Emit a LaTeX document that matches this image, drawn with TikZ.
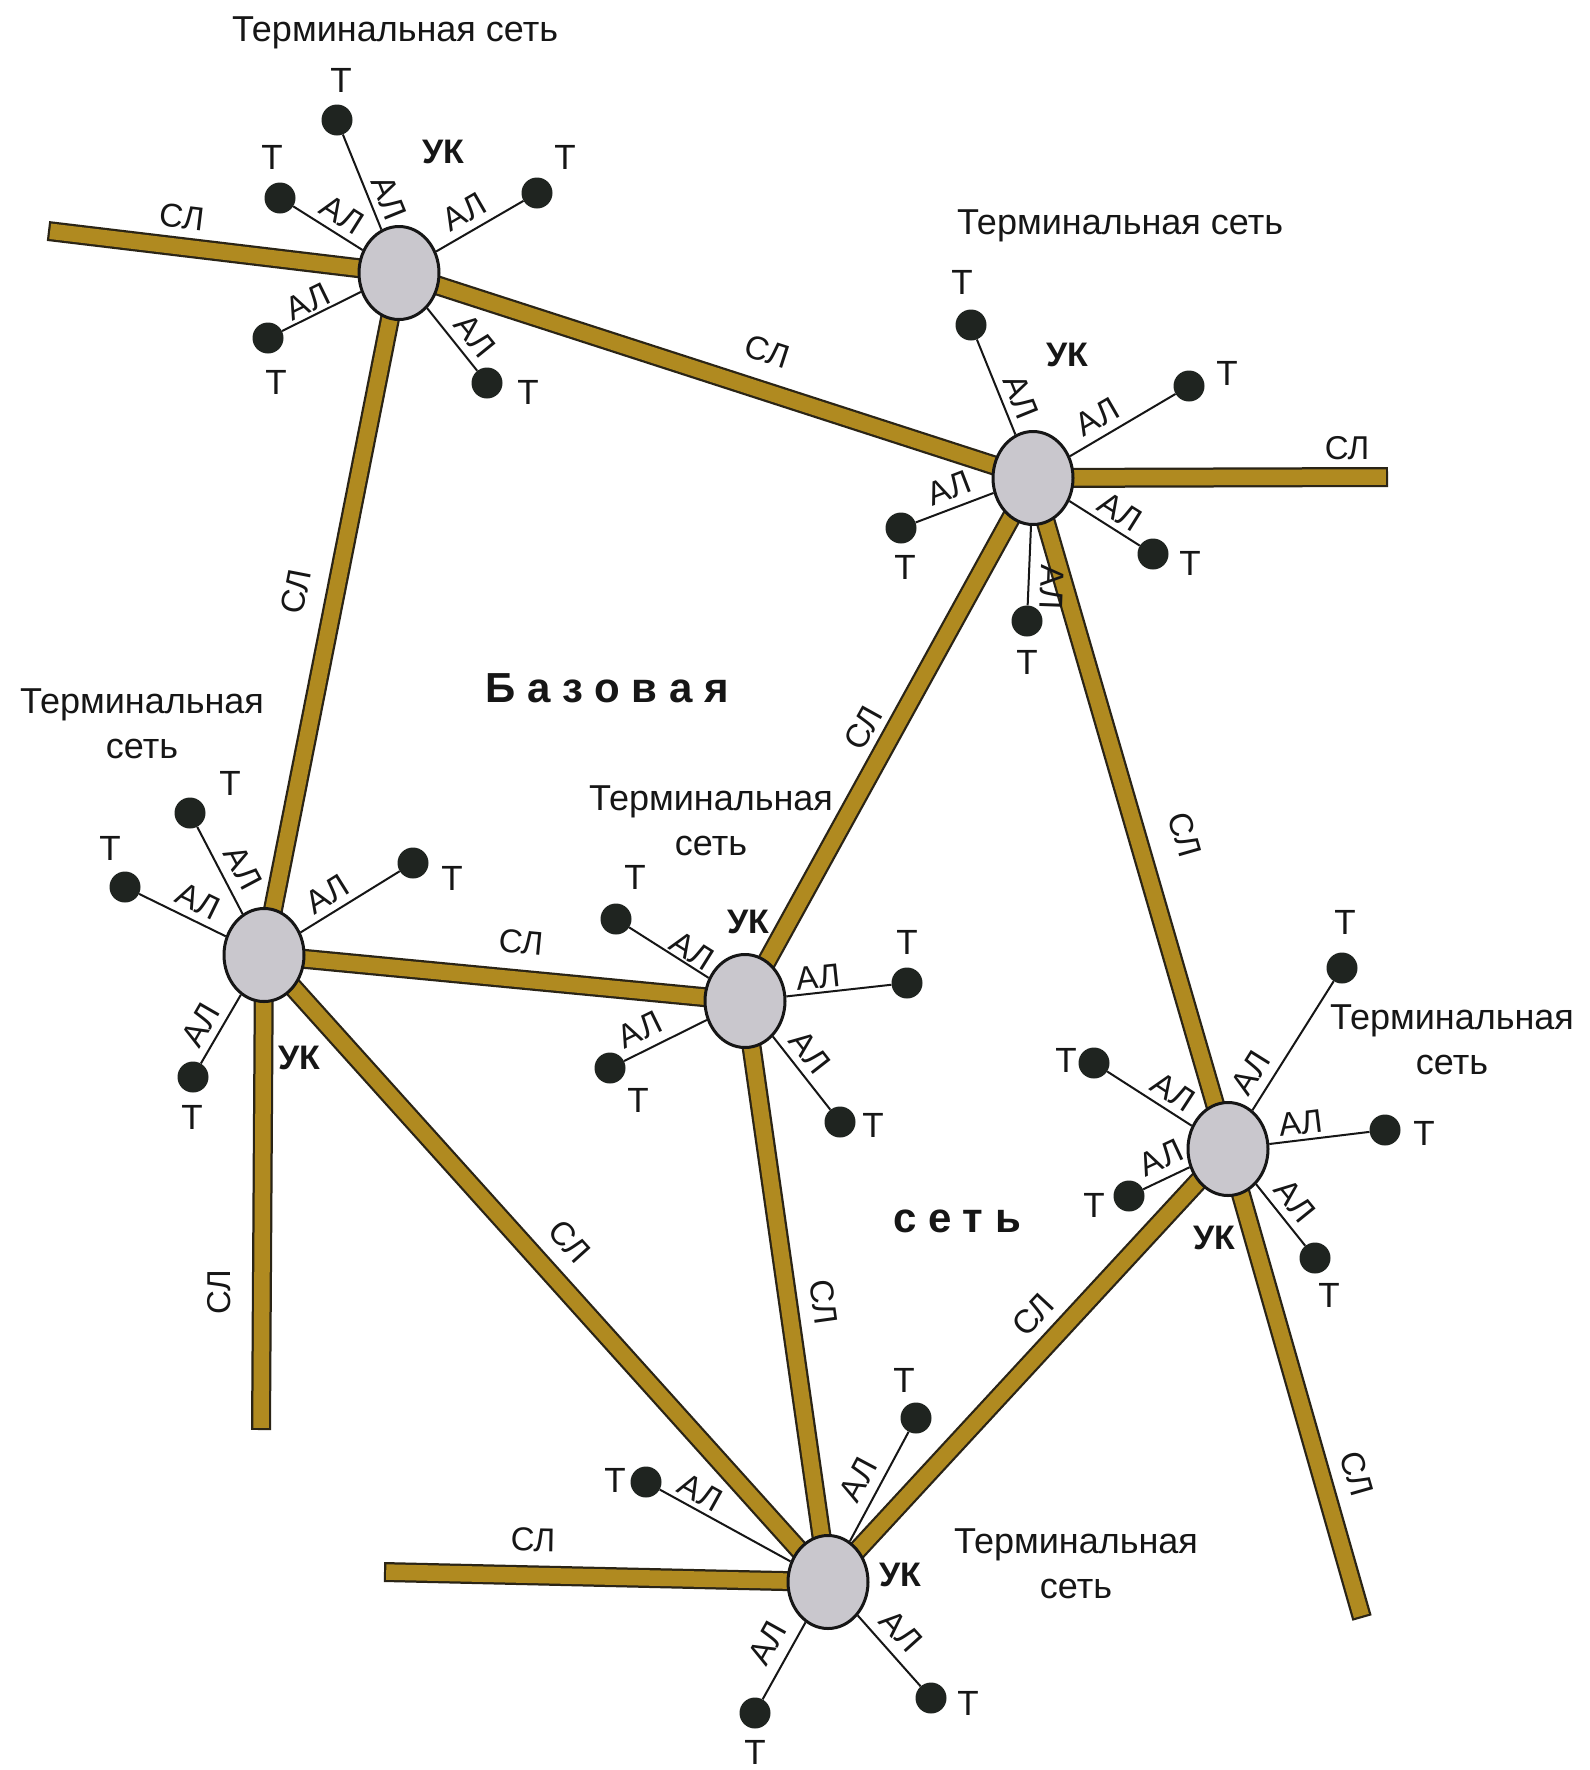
\documentclass[tikz,border=0pt]{standalone}
\usepackage{fontspec}
\setmainfont{Liberation Sans}
\newfontfamily\spacedfont[LetterSpace=28]{Liberation Sans}
\usetikzlibrary{shapes.geometric,backgrounds}

\definecolor{ink}{HTML}{161616}
\definecolor{trunk}{HTML}{B08A20}
\definecolor{trunkrim}{HTML}{2A2416}
\definecolor{hubfill}{HTML}{C9C7CD}
\definecolor{dotfill}{HTML}{1F2420}

\tikzset{
  hub/.style={ellipse, draw=ink, line width=3pt, fill=hubfill,
    minimum width=80pt, minimum height=93pt, inner sep=0pt},
  term/.style={circle, fill=dotfill, minimum size=31pt, inner sep=0pt},
  tlabel/.style={text=ink, font=\fontsize{35}{40}\selectfont, inner sep=0pt},
  allabel/.style={text=ink, font=\fontsize{33}{38}\selectfont, inner sep=0pt},
  sllabel/.style={text=ink, font=\fontsize{33}{38}\selectfont, inner sep=0pt},
  uklabel/.style={text=ink, font=\fontsize{34}{38}\selectfont\bfseries, inner sep=0pt},
  netname/.style={text=ink, font=\fontsize{36}{45}\selectfont, align=center, inner sep=0pt},
  basename/.style={text=ink, font=\spacedfont\bfseries\fontsize{42}{48}\selectfont, inner sep=0pt},
  accline/.style={draw=ink, line width=2pt},
  trunkouter/.style={draw=trunkrim, line width=20pt},
  trunkinner/.style={draw=trunk, line width=15.5pt, shorten <=2.2pt, shorten >=2.2pt},
}

\begin{document}
\begin{tikzpicture}[x=1pt,y=-1pt]
\useasboundingbox (0,0) rectangle (1590,1770);

% switching centres
\node[hub] (A) at (399,273) {};
\node[hub] (B) at (1033,478) {};
\node[hub] (C) at (264,955) {};
\node[hub] (D) at (745,1001) {};
\node[hub] (E) at (1228,1149) {};
\node[hub] (F) at (828,1582) {};

% open ends of trunk lines
\coordinate (lA) at (48,231);
\coordinate (lB) at (1388,477);
\coordinate (lC) at (261,1430);
\coordinate (lE) at (1362,1618);
\coordinate (lF) at (384,1572);

% trunk lines: dark rim first, golden core on top
\begin{pgfonlayer}{background}
  \fill[white] (0,0) rectangle (1590,1770);
  \foreach \p/\q in {A/B, A/C, A/lA, B/D, B/E, B/lB, C/D, C/F, C/lC, D/F, E/F, E/lE, F/lF}
    \draw[trunkouter] (\p.center) -- (\q.center);
  \foreach \p/\q in {A/B, A/C, A/lA, B/D, B/E, B/lB, C/D, C/F, C/lC, D/F, E/F, E/lE, F/lF}
    \draw[trunkinner] (\p.center) -- (\q.center);
\end{pgfonlayer}

% terminals with access lines
\foreach \h/\i/\dx/\dy/\lx/\ly/\ax/\ay/\r in {
  A/1/337/120/341/80/389/198/-68,
  A/2/280/198/272/157/342/215/-32,
  A/3/537/193/565/157/464/212/30,
  A/4/268/338/276/382/308/302/26,
  A/5/487/383/528/392/475/336/-51,
  B/1/971/325/962/282/1021/397/-68,
  B/2/1189/386/1227/373/1097/417/30,
  B/3/901/528/905/567/949/488/21,
  B/4/1153/554/1190/563/1120/512/-32,
  B/5/1027/621/1027/662/1052/587/-92,
  C/1/190/813/230/783/243/868/-62,
  C/2/125/887/110/848/198/901/-26,
  C/3/413/863/452/878/327/894/32,
  C/4/193/1077/192/1117/201/1025/60,
  D/1/616/919/635/877/692/951/-32,
  D/2/907/983/907/942/818/977/6,
  D/3/610/1068/638/1100/640/1030/26,
  D/4/840/1122/873/1125/810/1052/-52,
  E/1/1342/968/1345/922/1251/1073/58,
  E/2/1094/1063/1066/1060/1173/1092/-33,
  E/3/1385/1130/1424/1133/1301/1123/7,
  E/4/1129/1196/1094/1205/1161/1158/25,
  E/5/1315/1258/1329/1295/1295/1201/-51,
  F/1/916/1418/904/1380/858/1480/62,
  F/2/646/1482/615/1480/700/1492/-29,
  F/3/755/1713/755/1752/767/1643/61,
  F/4/931/1698/968/1703/901/1631/-48}
{
  \node[term] (\h-t\i) at (\dx,\dy) {};
  \node[tlabel] (\h-tl\i) at (\lx,\ly) {Т};
  \draw[accline] (\h) -- (\h-t\i);
  \node[allabel, rotate=\r] (\h-al\i) at (\ax,\ay) {АЛ};
}

% centre labels
\node[uklabel] (ukA) at (443,152) {УК};
\node[uklabel] (ukB) at (1067,355) {УК};
\node[uklabel] (ukC) at (299,1058) {УК};
\node[uklabel] (ukD) at (748,922) {УК};
\node[uklabel] (ukE) at (1214,1238) {УК};
\node[uklabel] (ukF) at (900,1575) {УК};

% trunk line labels
\foreach \i/\x/\y/\r in {
  1/182/217/-7, 2/767/352/-18, 3/296/592/79, 4/1347/448/0,
  5/863/728/61, 6/1185/835/-74, 7/521/942/-5.5, 8/570/1241/-48,
  9/219/1292/90, 10/824/1302/-82, 11/1033/1315/47, 12/1357/1474/-74,
  13/533/1540/-1}
  \node[sllabel, rotate=\r] (sl\i) at (\x,\y) {СЛ};

% network names
\node[netname] (tnA) at (395,33) {Терминальная сеть};
\node[netname] (tnB) at (1120,226) {Терминальная сеть};
\node[netname] (tnC) at (142,724) {Терминальная\\сеть};
\node[netname] (tnD) at (711,821) {Терминальная\\сеть};
\node[netname] (tnE) at (1452,1040) {Терминальная\\сеть};
\node[netname] (tnF) at (1076,1564) {Терминальная\\сеть};

\node[basename] (base1) at (607,688) {Базовая};
\node[basename] (base2) at (957,1221) {сеть};
\end{tikzpicture}
\end{document}
